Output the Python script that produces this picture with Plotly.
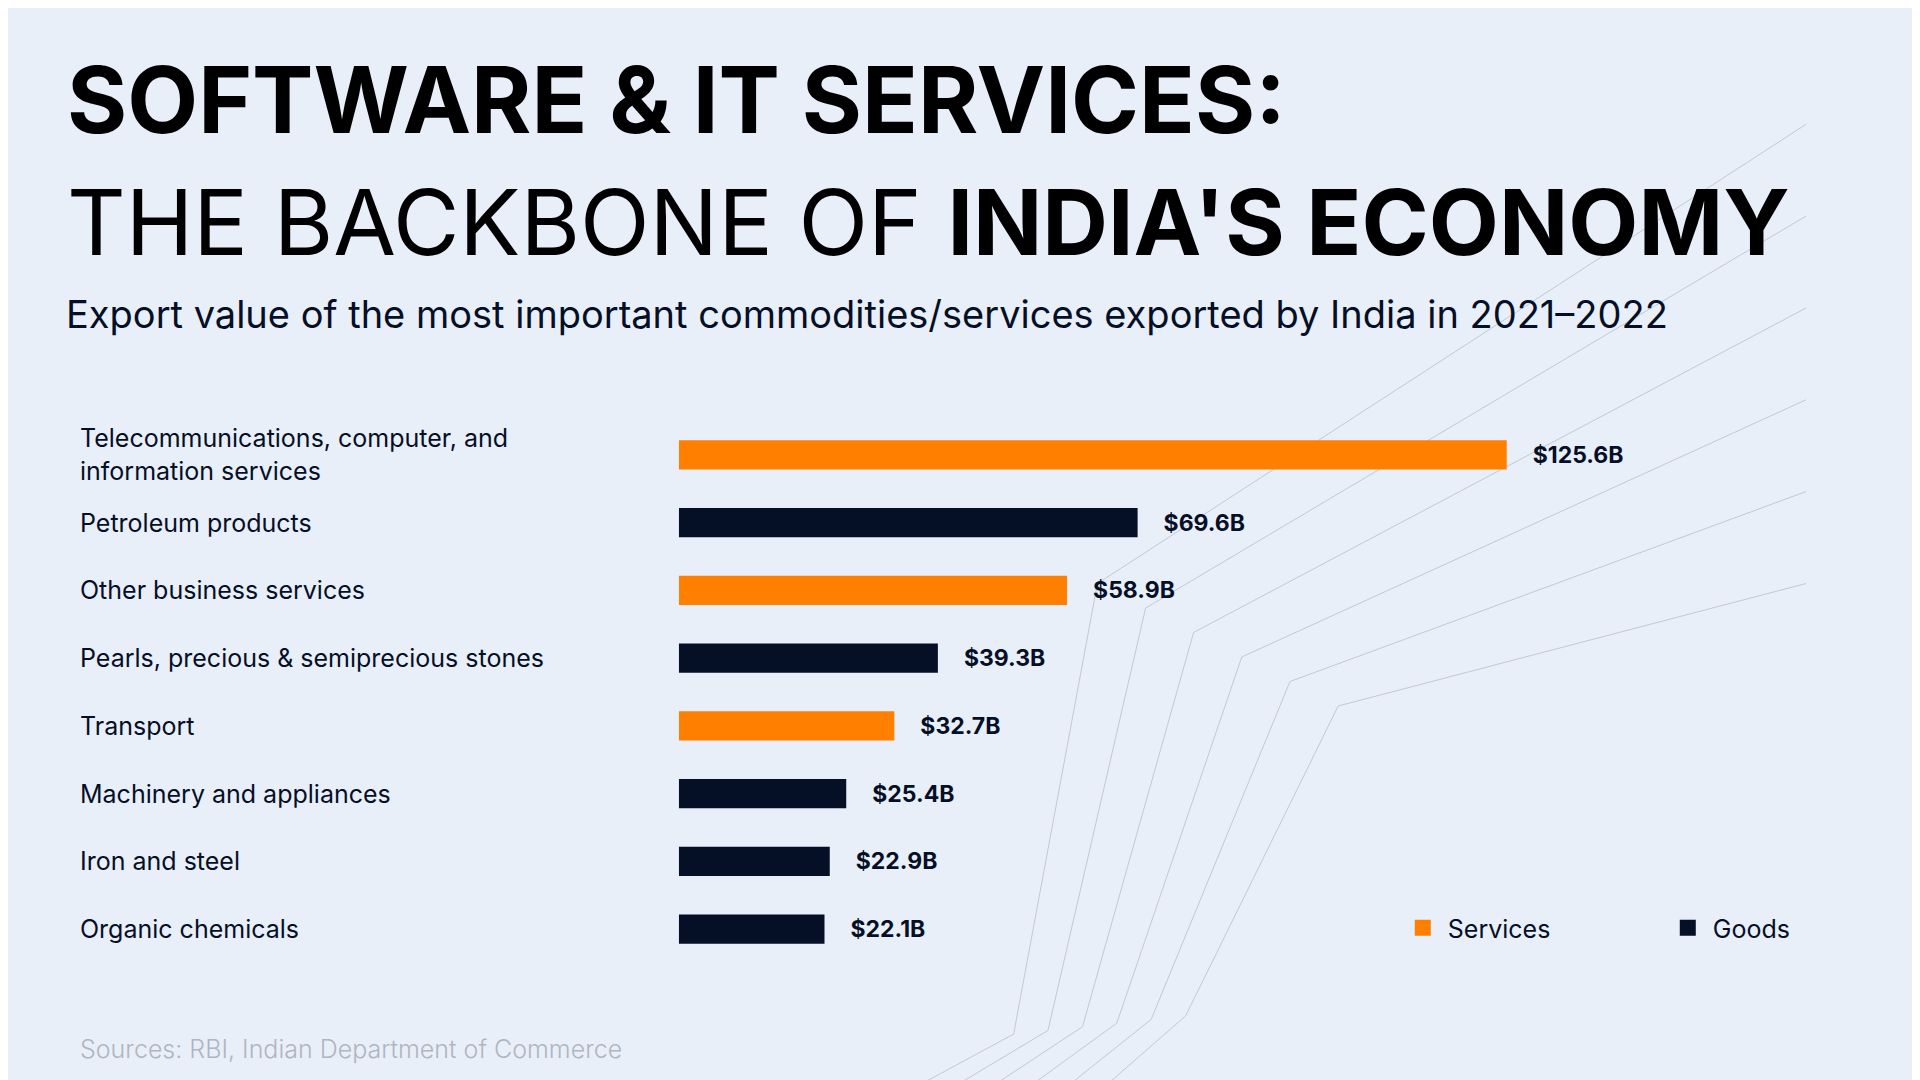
import plotly.graph_objects as go

categories = [
    "Telecommunications, computer, and<br>information services",
    "Petroleum products",
    "Other business services",
    "Pearls, precious & semiprecious stones",
    "Transport",
    "Machinery and appliances",
    "Iron and steel",
    "Organic chemicals",
]
values = [125.6, 69.6, 58.9, 39.3, 32.7, 25.4, 22.9, 22.1]
kinds = ["Services", "Goods", "Services", "Goods", "Services", "Goods", "Goods", "Goods"]
colors = {"Services": "#ff7f00", "Goods": "#050f26"}

FONT = "Inter"
W, H = 1920, 1080
fig = go.Figure()

for kind in ["Services", "Goods"]:
    ys = [c for c, k in zip(categories, kinds) if k == kind]
    xs = [v for v, k in zip(values, kinds) if k == kind]
    fig.add_trace(go.Bar(
        x=xs, y=ys, orientation="h", name=kind, width=0.43, showlegend=False,
        marker=dict(color=colors[kind], line=dict(width=0)),
        text=[f"\u2002\u2002${v}B" for v in xs], textposition="outside",
        textfont=dict(family=FONT, size=23, color="#050f26", weight="bold"),
        cliponaxis=False,
    ))
    # legend entry with a larger square marker
    fig.add_trace(go.Scatter(
        x=[None], y=[None], mode="markers", name=kind,
        marker=dict(symbol="square", size=26, color=colors[kind]),
    ))

# category labels on the left
for c in categories:
    fig.add_annotation(x=61 / 1568, y=c, xref="paper", yref="y", text=c,
                       showarrow=False, xanchor="left", align="left",
                       font=dict(family=FONT, size=25, color="#050f26"))

# decorative lines
shapes = []
for i in range(6):
    pts = [(790 + i * 33, 882), (877 + i * 30, 838 - i * 3),
           (950 + i * 42, 470 + i * 20), (1568, 95 + i * 75)]
    path = "M " + " L ".join(f"{x / 1568:.4f},{1 - y / 882:.4f}" for x, y in pts)
    shapes.append(dict(type="path", path=path, xref="paper", yref="paper",
                       line=dict(color="#c3c8d2", width=1), layer="below"))

fig.add_annotation(x=50 / 1568, y=1 - 92 / H, xref="paper", yref="paper",
                   text="<b>SOFTWARE & IT SERVICES:</b>", showarrow=False,
                   xanchor="left", yanchor="middle",
                   font=dict(family=FONT, size=92, color="#000"))
fig.add_annotation(x=50 / 1568, y=1 - 214 / H, xref="paper", yref="paper",
                   text="THE BACKBONE OF <b>INDIA'S ECONOMY</b>", showarrow=False,
                   xanchor="left", yanchor="middle",
                   font=dict(family=FONT, size=91, color="#000"))
fig.add_annotation(x=49 / 1568, y=1 - 306 / H, xref="paper", yref="paper",
                   text="Export value of the most important commodities/services exported by India in 2021\u20132022",
                   showarrow=False, xanchor="left", yanchor="middle",
                   font=dict(family=FONT, size=38, color="#050f26"))
fig.add_annotation(x=61 / 1568, y=1 - 1041 / H, xref="paper", yref="paper",
                   text="Sources: RBI, Indian Department of Commerce",
                   showarrow=False, xanchor="left", yanchor="middle",
                   font=dict(family=FONT, size=25, color="#b0b5c0", weight=300))

fig.update_layout(
    width=W, height=H, barmode="overlay",
    paper_bgcolor="#e9eff9", plot_bgcolor="rgba(0,0,0,0)",
    margin=dict(l=0, r=0, t=0, b=0), shapes=shapes,
    xaxis=dict(domain=[585 / 1568, 1.0], range=[0, 171], visible=False),
    yaxis=dict(domain=[0.1157, 0.6176], categoryorder="array",
               categoryarray=categories, autorange="reversed", visible=False),
    legend=dict(orientation="h", x=1212 / 1568, y=1 - 920 / H, yanchor="middle",
                xanchor="left", font=dict(family=FONT, size=25, color="#050f26"),
                bgcolor="rgba(0,0,0,0)", itemwidth=40, entrywidth=210),
    showlegend=True,
)
fig.write_html("out.html")
